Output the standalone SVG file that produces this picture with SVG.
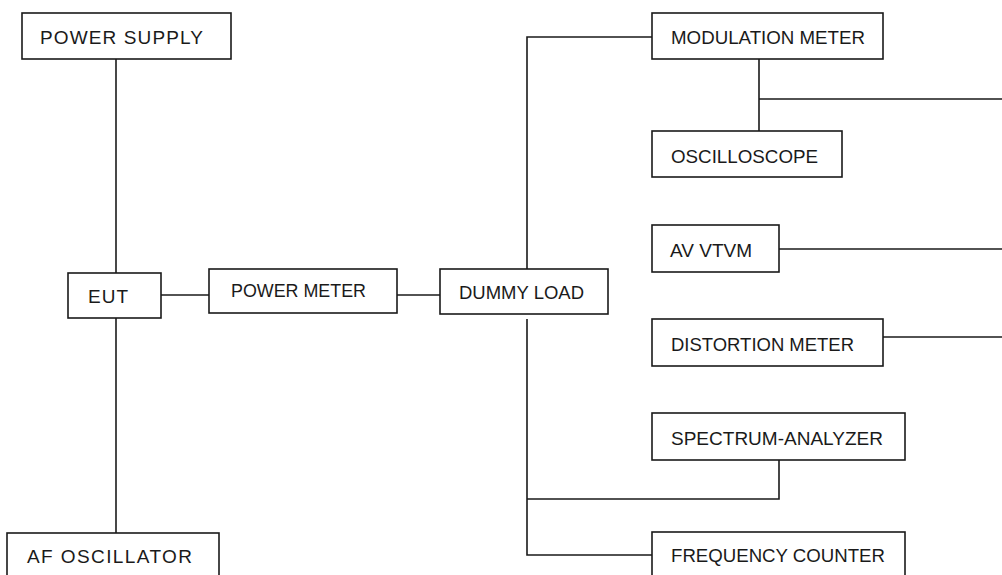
<svg xmlns="http://www.w3.org/2000/svg" width="1002" height="575" viewBox="0 0 1002 575">
<style>
.box{fill:#fff;stroke:#1a1a1a;stroke-width:1.6}
.lbl{font-family:"Liberation Sans",Arial,sans-serif;font-size:19px;fill:#1a1a1a}
.con{fill:none;stroke:#1a1a1a;stroke-width:1.6}
</style>
<rect width="1002" height="575" fill="#fff"/>
<g id="connectors">
<path class="con" d="M116 59V273"/>
<path class="con" d="M116 318V533"/>
<path class="con" d="M161 295H209"/>
<path class="con" d="M397 295H440"/>
<path class="con" d="M527 271V37H652"/>
<path class="con" d="M759 59V131M759 99H1002"/>
<path class="con" d="M779 249H1002"/>
<path class="con" d="M883 337H1002"/>
<path class="con" d="M527 319V555H652"/>
<path class="con" d="M779 460V499H527"/>
</g>
<g id="power-supply"><rect class="box" x="22" y="13" width="209" height="46"/><text class="lbl" x="40" y="44" textLength="163" lengthAdjust="spacing">POWER SUPPLY</text></g>
<g id="eut"><rect class="box" x="68" y="273" width="93" height="45"/><text class="lbl" x="88" y="303" textLength="40" lengthAdjust="spacing">EUT</text></g>
<g id="power-meter"><rect class="box" x="209" y="269" width="188" height="44"/><text class="lbl" x="231" y="297" textLength="135" lengthAdjust="spacingAndGlyphs">POWER METER</text></g>
<g id="dummy-load"><rect class="box" x="440" y="269" width="168" height="45"/><text class="lbl" x="459" y="299" textLength="125" lengthAdjust="spacingAndGlyphs">DUMMY LOAD</text></g>
<g id="modulation-meter"><rect class="box" x="652" y="13" width="231" height="46"/><text class="lbl" x="671" y="44" textLength="194" lengthAdjust="spacingAndGlyphs">MODULATION METER</text></g>
<g id="oscilloscope"><rect class="box" x="652" y="131" width="190" height="46"/><text class="lbl" x="671" y="163" textLength="147" lengthAdjust="spacingAndGlyphs">OSCILLOSCOPE</text></g>
<g id="av-vtvm"><rect class="box" x="652" y="225" width="127" height="47"/><text class="lbl" x="670" y="257" textLength="82" lengthAdjust="spacingAndGlyphs">AV VTVM</text></g>
<g id="distortion-meter"><rect class="box" x="652" y="319" width="231" height="47"/><text class="lbl" x="671" y="351" textLength="183" lengthAdjust="spacingAndGlyphs">DISTORTION METER</text></g>
<g id="spectrum-analyzer"><rect class="box" x="652" y="413" width="253" height="47"/><text class="lbl" x="671" y="445" textLength="212" lengthAdjust="spacingAndGlyphs">SPECTRUM-ANALYZER</text></g>
<g id="frequency-counter"><rect class="box" x="652" y="532" width="253" height="50"/><text class="lbl" x="671" y="562" textLength="214" lengthAdjust="spacingAndGlyphs">FREQUENCY COUNTER</text></g>
<g id="af-oscillator"><rect class="box" x="7" y="533" width="212" height="50"/><text class="lbl" x="27" y="563" textLength="165" lengthAdjust="spacing">AF OSCILLATOR</text></g>
</svg>
